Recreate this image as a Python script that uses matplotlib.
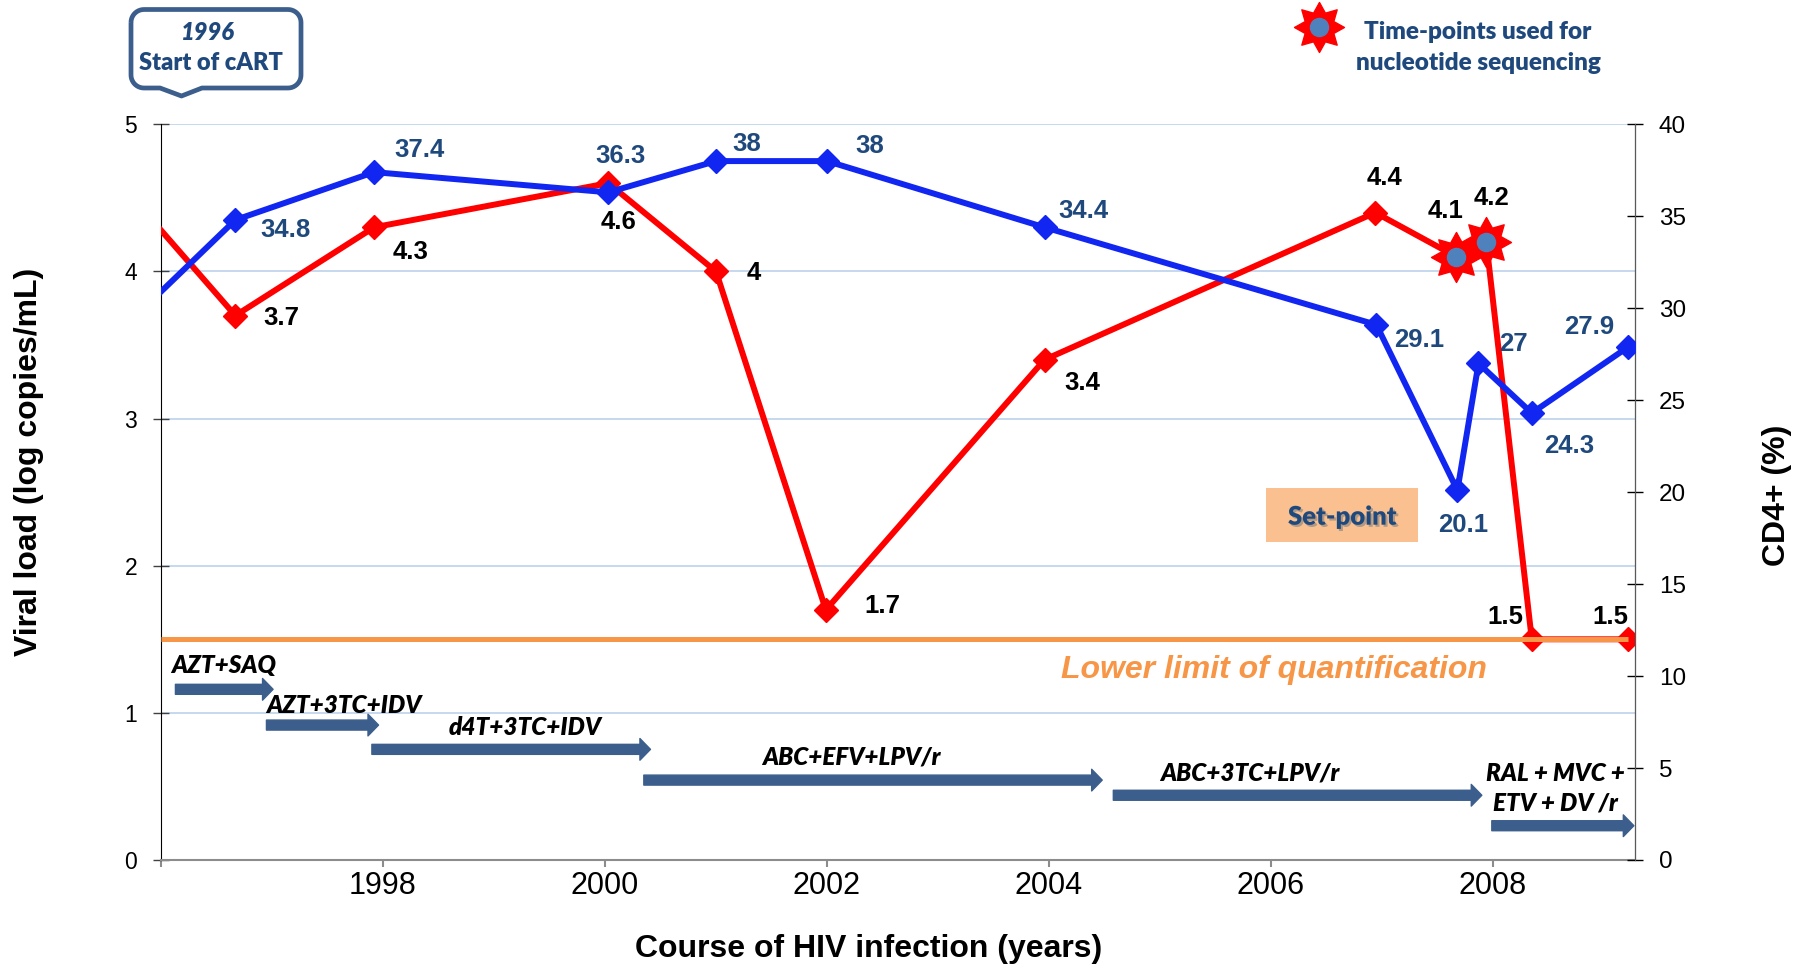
import numpy as np
import matplotlib
matplotlib.use("Agg")
import matplotlib.pyplot as plt
import matplotlib.patheffects as pe
from matplotlib.path import Path
from matplotlib.patches import PathPatch, Rectangle
from matplotlib.lines import Line2D
from matplotlib.transforms import Affine2D

# =========================
# Data
# =========================
# decimal years; the first entry is where the curves enter at the left axis edge
vl_years = [1996.0, 1996.67, 1997.92, 2000.03, 2001.0, 2001.99, 2003.96, 2006.94, 2007.67, 2007.94, 2008.35, 2009.22]
viral_load = [4.28, 3.7, 4.3, 4.6, 4.0, 1.7, 3.4, 4.4, 4.1, 4.2, 1.5, 1.5]

cd4_years = [1996.0, 1996.67, 1997.92, 2000.03, 2001.0, 2002.0, 2003.96, 2006.95, 2007.68, 2007.87, 2008.35, 2009.22]
cd4 = [30.9, 34.8, 37.4, 36.3, 38, 38, 34.4, 29.1, 20.1, 27, 24.3, 27.9]

seq_idx = [8, 9]     # time-points used for nucleotide sequencing
lloq = 1.5           # lower limit of quantification

regimens = ["AZT+SAQ", "AZT+3TC+IDV", "d4T+3TC+IDV", "ABC+EFV+LPV/r",
            "ABC+3TC+LPV/r", "RAL + MVC +\nETV + DV /r"]
reg_start = [1996.13, 1996.95, 1997.90, 2000.35, 2004.58, 2007.99]
reg_end = [1997.01, 1997.96, 2000.41, 2004.48, 2007.90, 2009.27]

year_ticks = [1996, 1998, 2000, 2002, 2004, 2006, 2008]
year_labels = ["", "1998", "2000", "2002", "2004", "2006", "2008"]

# =========================
# Layout / style
# =========================
W, H = 1808, 969
ARIAL = "Liberation Sans"
CAL = ["Lato", "DejaVu Sans"]
CAL_W = 800
RED = "#FF0000"
BLUE = "#1226F2"
NAVY = "#1F497D"
STEEL = "#3B5E8C"
ORANGE = "#F79646"

# label offsets in points (dx, dy)
vl_off = [None, (33, -2), (26, -18), (7, -28), (27, -1), (41, 3), (27, -17),
          (7, 25), (-8, 33), (4, 32), (-19, 16), (-13, 16)]
cd4_off = [None, (36, -7), (33, 16), (9, 26), (22, 12), (31, 11), (28, 12),
           (31, -11), (4, -25), (25, 14), (27, -24), (-28, 14)]

# regimen rows and label spots (data coords of left axis)
reg_row = [1.16, 0.917, 0.752, 0.543, 0.44, 0.233]
reg_lab_x = [1996.56, 1997.65, 1999.28, 2002.22, 2005.81, 2008.56]
reg_lab_y = [1.325, 1.053, 0.90, 0.70, 0.593, 0.49]

fig = plt.figure(figsize=(W / 100, H / 100), dpi=100)
px = Affine2D().scale(1 / W, -1 / H).translate(0, 1) + fig.transFigure

ax = fig.add_axes([161 / W, 1 - 860 / H, (1635 - 161) / W, (860 - 124.3) / H])
ax2 = ax.twinx()

ax.set_xlim(1996.0, 2009.28)
ax.set_ylim(0, 5)
ax2.set_ylim(0, 40)

# -------------------------
# Axes styling
# -------------------------
ax.set_yticks(range(0, 6))
ax2.set_yticks(range(0, 41, 5))
ax.set_xticks(year_ticks)
ax.set_xticklabels(year_labels)
ax.yaxis.grid(True, color="#C5D8EE", lw=1.4)
ax.set_axisbelow(True)

for a in (ax, ax2):
    a.spines["top"].set_visible(False)
ax.spines["left"].set_color("black")
ax.spines["bottom"].set_color("#8C8C8C")
ax.spines["bottom"].set_linewidth(1.5)
ax2.spines["right"].set_color("#595959")
ax2.spines["left"].set_visible(False)
ax2.spines["bottom"].set_visible(False)

ax.tick_params(axis="y", direction="inout", length=11.5, width=1, pad=11.5,
               labelsize=16.5, color="#404040")
ax2.tick_params(axis="y", direction="inout", length=11.5, width=1, pad=11.5,
                labelsize=17.5, color="black")
ax.tick_params(axis="x", direction="out", length=5, width=1.5, pad=3,
               labelsize=22, color="#8C8C8C")
for lab in ax.get_xticklabels() + ax.get_yticklabels() + ax2.get_yticklabels():
    lab.set_fontfamily(ARIAL)

# -------------------------
# Series
# -------------------------
ax.plot(vl_years, viral_load, color=RED, lw=4.3, marker="D", ms=12,
        markevery=list(range(1, len(vl_years))), zorder=3, clip_on=True)
ax2.plot(cd4_years, cd4, color=BLUE, lw=4.3, marker="D", ms=12,
         markevery=list(range(1, len(cd4_years))), zorder=3)

# lower limit of quantification
ax.hlines(lloq, vl_years[0], vl_years[-1], color=ORANGE, lw=3.6, zorder=4)
ax.text(2006.03, 1.29, "Lower limit of quantification", color=ORANGE,
        fontsize=23, fontweight="bold", fontstyle="italic", family=ARIAL,
        ha="center", va="center")

# sequencing time-points (drawn on top of everything)
star = Path.unit_regular_star(8, 0.62)
sx = [vl_years[i] for i in seq_idx]
sy = [viral_load[i] for i in seq_idx]
ax2.plot(sx, sy, ls="none", marker=star, ms=36, color=RED,
         transform=ax.transData, zorder=6)
ax2.plot(sx, sy, ls="none", marker="o", ms=13, color="#4F81BD",
         transform=ax.transData, zorder=7)

# data labels
for i, (x, v) in enumerate(zip(vl_years, viral_load)):
    if vl_off[i] is None:
        continue
    ax2.annotate(f"{v:g}", (x, v), xycoords=ax.transData, xytext=vl_off[i],
                 textcoords="offset points", ha="center", va="center",
                 fontsize=18.5, fontweight="bold", family=ARIAL, color="black",
                 zorder=8)
for i, (x, c) in enumerate(zip(cd4_years, cd4)):
    if cd4_off[i] is None:
        continue
    ax2.annotate(f"{c:g}", (x, c), xytext=cd4_off[i],
                 textcoords="offset points", ha="center", va="center",
                 fontsize=18.5, fontweight="bold", family=ARIAL, color=NAVY,
                 zorder=8)

# -------------------------
# Treatment arrows
# -------------------------
for name, x0, x1, row, lx, ly in zip(regimens, reg_start, reg_end, reg_row,
                                     reg_lab_x, reg_lab_y):
    ax.annotate("", xy=(x1, row), xytext=(x0, row), annotation_clip=False,
                arrowprops=dict(arrowstyle="simple,head_length=0.38,head_width=0.78,tail_width=0.36",
                                mutation_scale=20, color=STEEL, shrinkA=0, shrinkB=0))
    ax.text(lx, ly, name, ha="center", va="center", fontsize=17.5,
            fontweight=CAL_W, fontstyle="italic", family=CAL, color="black",
            linespacing=1.35, clip_on=False)

# -------------------------
# Axis titles
# -------------------------
fig.text(29, 462, "Viral load (log copies/mL)", transform=px, rotation=90,
         ha="center", va="center", fontsize=23, fontweight="bold", family=ARIAL)
fig.text(1777, 495, "CD4+ (%)", transform=px, rotation=90,
         ha="center", va="center", fontsize=23, fontweight="bold", family=ARIAL)
fig.text(869, 949, "Course of HIV infection (years)", transform=px,
         ha="center", va="center", fontsize=23, fontweight="bold", family=ARIAL)

# -------------------------
# Callout "Start of cART"
# -------------------------
def corner(cx, cy, r, t0, t1):
    t = np.linspace(t0, t1, 12)
    return list(zip(cx + r * np.cos(t), cy + r * np.sin(t)))

L, R, T, B, r = 131, 301, 9.5, 88, 13
pts = []
pts += corner(L + r, T + r, r, np.pi, 1.5 * np.pi)
pts += corner(R - r, T + r, r, 1.5 * np.pi, 2 * np.pi)
pts += corner(R - r, B - r, r, 0, 0.5 * np.pi)
pts += [(202, B), (181.5, 96), (160, B)]
pts += corner(L + r, B - r, r, 0.5 * np.pi, np.pi)
pts.append(pts[0])
callout = PathPatch(Path(pts), facecolor="white", edgecolor=STEEL, lw=3.4,
                    joinstyle="round", transform=px)
fig.add_artist(callout)
fig.text(208, 32, "1996", transform=px, ha="center", va="center", fontsize=17,
         fontweight=CAL_W, fontstyle="italic", family=CAL, color=NAVY)
fig.text(211, 63, "Start of cART", transform=px, ha="center", va="center",
         fontsize=17, fontweight=CAL_W, family=CAL, color=NAVY)

# -------------------------
# Legend for sequencing stars
# -------------------------
fig.add_artist(Line2D([1319.4], [26.7], marker=star, ms=36, color=RED, ls="none",
                      transform=px))
fig.add_artist(Line2D([1319.4], [26.7], marker="o", ms=13, color="#4F81BD",
                      ls="none", transform=px))
fig.text(1478, 31.7, "Time-points used for", transform=px, ha="center",
         va="center", fontsize=17.5, fontweight=CAL_W, family=CAL, color=NAVY)
fig.text(1478.5, 63.3, "nucleotide sequencing", transform=px, ha="center",
         va="center", fontsize=17.5, fontweight=CAL_W, family=CAL, color=NAVY)

# -------------------------
# Set-point box
# -------------------------
fig.add_artist(Rectangle((1266, 488.3), 152, 53.4, facecolor="#FAC090",
                         edgecolor="none", transform=px))
fig.text(1342.5, 516.7, "Set-point", transform=px, ha="center", va="center",
         fontsize=18.5, fontweight=CAL_W, family=CAL, color=NAVY,
         path_effects=[pe.SimplePatchShadow(offset=(1.5, -1.5), shadow_rgbFace="#7F7F7F", alpha=0.6),
                       pe.Normal()])

fig.savefig("out.png", dpi=100)
